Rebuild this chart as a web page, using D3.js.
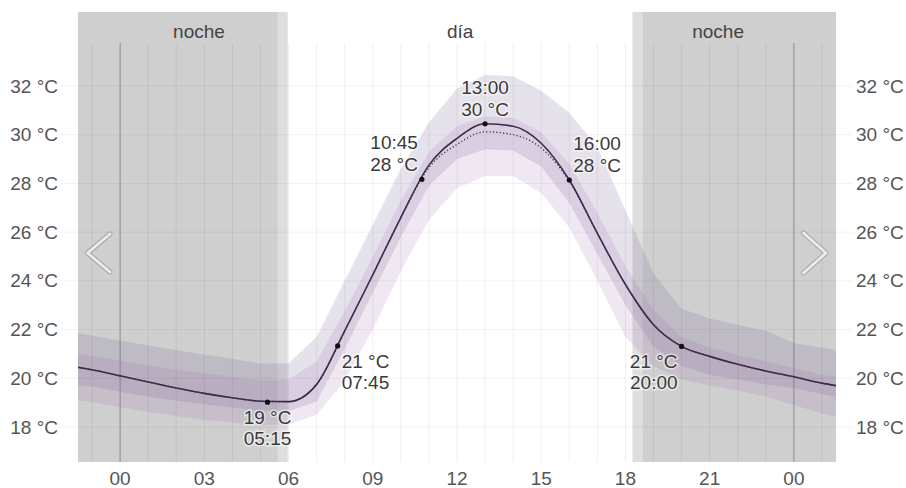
<!DOCTYPE html>
<html>
<head>
<meta charset="utf-8">
<script src="https://cdn.jsdelivr.net/npm/d3@7"></script>
<style>
  html, body { margin: 0; padding: 0; background: #fff; }
  svg { display: block; font-family: "Liberation Sans", Arial, sans-serif; }
</style>
</head>
<body>
<svg id="chart" width="906" height="488"></svg>
<script>
// Hour of day (0 = midnight), spanning the previous evening to the next night
const hours = [-1.5, -1, 0, 1, 2, 3, 4, 5, 6, 7, 8, 9, 10, 11, 12, 13, 14, 15, 16, 17, 18, 19, 20, 21, 22, 23, 24, 25, 25.5];

// Forecast temperature (°C)
const tempMain = [20.45, 20.35, 20.10, 19.85, 19.60, 19.38, 19.20, 19.06, 19.04, 19.75, 21.95, 24.25, 26.60, 28.75, 29.85, 30.45, 30.35, 29.65, 28.14, 25.95, 23.85, 22.20, 21.31, 20.90, 20.58, 20.30, 20.06, 19.80, 19.70];
// Median of the ensemble
const tempMedian = [20.45, 20.35, 20.10, 19.85, 19.60, 19.38, 19.20, 19.06, 19.04, 19.75, 21.95, 24.25, 26.60, 28.65, 29.60, 30.12, 30.00, 29.45, 28.10, 25.95, 23.85, 22.20, 21.31, 20.90, 20.58, 20.30, 20.06, 19.80, 19.70];

// Uncertainty ranges
const outerHigh = [21.85, 21.75, 21.55, 21.35, 21.15, 20.98, 20.80, 20.60, 20.62, 21.70, 24.00, 26.30, 28.60, 30.50, 31.90, 32.45, 32.40, 31.80, 30.90, 29.50, 26.90, 24.30, 22.85, 22.45, 22.20, 21.95, 21.45, 21.25, 21.16];
const innerHigh = [21.00, 20.92, 20.72, 20.52, 20.35, 20.20, 20.05, 19.90, 19.95, 20.70, 22.75, 25.00, 27.30, 29.30, 30.35, 30.75, 30.70, 30.10, 28.80, 26.80, 24.60, 22.80, 21.70, 21.25, 20.95, 20.70, 20.41, 20.15, 20.06];
const innerLow  = [19.72, 19.65, 19.45, 19.25, 19.08, 18.93, 18.80, 18.68, 18.65, 19.05, 21.20, 23.50, 25.80, 27.90, 29.00, 29.40, 29.35, 28.70, 27.20, 25.10, 23.00, 21.30, 20.50, 20.15, 19.95, 19.75, 19.59, 19.35, 19.24];
const outerLow  = [19.10, 19.02, 18.82, 18.62, 18.45, 18.30, 18.18, 18.08, 18.10, 18.50, 19.90, 22.00, 24.40, 26.50, 27.80, 28.30, 28.30, 27.60, 26.20, 24.00, 21.70, 20.50, 19.95, 19.70, 19.50, 19.25, 18.90, 18.55, 18.42];

// Highlighted moments
const markTimes = ["05:15", "07:45", "10:45", "13:00", "16:00", "20:00"];
const markTemps = [19.02, 21.33, 28.17, 30.45, 28.14, 21.31];
const markPlace = ["below", "belowRight", "aboveLeft", "above", "aboveRight", "belowLeft"];

// Sun times (hours): dawn, sunrise, sunset, dusk
const dawn = 5.62, sunrise = 5.97, sunset = 18.25, dusk = 18.6;
const periodNames = ["noche", "día", "noche"];

const xTicks = [0, 3, 6, 9, 12, 15, 18, 21, 24];
const yTicks = [18, 20, 22, 24, 26, 28, 30, 32];

const svg = d3.select("#chart");
const plotL = 78, plotR = 836, plotT = 43, plotB = 462, shadeT = 12;

const x = d3.scaleLinear().domain([-1.5, 25.5]).range([plotL, plotR]);
const y = d3.scaleLinear().domain([18, 32]).range([427, 86]);

const hh = t => { const [h, m] = t.split(":").map(Number); return h + m / 60; };
const fmtT = d3.format(".0f");

svg.append("defs").append("clipPath").attr("id", "plot")
  .append("rect").attr("x", plotL).attr("y", 0).attr("width", plotR - plotL).attr("height", plotB);

// Night / twilight shading
const shade = svg.append("g");
const shadeRect = (a, b, col) => shade.append("rect")
  .attr("x", x(a)).attr("y", shadeT).attr("width", x(b) - x(a)).attr("height", plotB - shadeT).attr("fill", col);
shadeRect(-1.5, dawn, "#cfcfcf");
shadeRect(dawn, sunrise, "#dedede");
shadeRect(sunset, dusk, "#dedede");
shadeRect(dusk, 25.5, "#cfcfcf");

// Period labels
const periodCenters = [(x(0) + x(dawn)) / 2, (x(sunrise) + x(sunset)) / 2, (x(dusk) + x(24)) / 2];
svg.append("g").selectAll("text").data(periodNames).join("text")
  .attr("x", (d, i) => periodCenters[i]).attr("y", 31.5)
  .attr("text-anchor", "middle").attr("dominant-baseline", "central")
  .attr("font-size", 19).attr("fill", "#444").text(d => d);

// Grid
const grid = svg.append("g");
grid.selectAll("line.h").data(yTicks).join("line")
  .attr("x1", 60).attr("x2", 853).attr("y1", d => y(d)).attr("y2", d => y(d))
  .attr("stroke", "rgba(0,0,0,0.05)").attr("stroke-width", 1);
grid.selectAll("line.v").data(d3.range(-1, 26)).join("line")
  .attr("x1", d => x(d)).attr("x2", d => x(d)).attr("y1", plotT).attr("y2", plotB)
  .attr("stroke", d => (d % 24 === 0) ? "rgba(0,0,0,0.32)" : "rgba(0,0,0,0.065)")
  .attr("stroke-width", 1);

// Bands
const plot = svg.append("g").attr("clip-path", "url(#plot)");
const idx = d3.range(hours.length);
const area = (lo, hi) => d3.area().x(i => x(hours[i])).y0(i => y(lo[i])).y1(i => y(hi[i])).curve(d3.curveLinear)(idx);
plot.append("path").attr("d", area(innerLow, outerHigh)).attr("fill", "rgb(120,100,150)").attr("fill-opacity", 0.19);
plot.append("path").attr("d", area(outerLow, innerHigh)).attr("fill", "rgb(150,100,165)").attr("fill-opacity", 0.15);

// Lines
const line = vals => d3.line().x(i => x(hours[i])).y(i => y(vals[i])).curve(d3.curveMonotoneX)(idx);
plot.append("path").attr("d", line(tempMain)).attr("fill", "none").attr("stroke", "#3a2d4c").attr("stroke-width", 1.6);
plot.append("path").attr("d", line(tempMedian)).attr("fill", "none").attr("stroke", "#3a2d4c").attr("stroke-width", 1.3).attr("stroke-dasharray", "1.2,2.2");

// Axis labels
svg.append("g").selectAll("text").data(yTicks).join("text")
  .attr("x", 58).attr("y", d => y(d)).attr("text-anchor", "end").attr("dominant-baseline", "central")
  .attr("font-size", 19).attr("fill", "#555").text(d => d + " °C");
svg.append("g").selectAll("text").data(yTicks).join("text")
  .attr("x", 856).attr("y", d => y(d)).attr("text-anchor", "start").attr("dominant-baseline", "central")
  .attr("font-size", 19).attr("fill", "#555").text(d => d + " °C");
svg.append("g").selectAll("text").data(xTicks).join("text")
  .attr("x", d => x(d)).attr("y", 478.5).attr("text-anchor", "middle").attr("dominant-baseline", "central")
  .attr("font-size", 19).attr("fill", "#555").text(d => String(d % 24).padStart(2, "0"));

// Navigation chevrons
const chev = svg.append("g").attr("fill", "none").attr("stroke-linecap", "round").attr("stroke-linejoin", "round");
const cy = 253;
[`M110,${cy - 19} L87.5,${cy} L110,${cy + 19}`, `M803.5,${cy - 20} L826,${cy} L803.5,${cy + 20}`].forEach(d => {
  chev.append("path").attr("d", d).attr("stroke", "#a9a9a9").attr("stroke-width", 5);
  chev.append("path").attr("d", d).attr("stroke", "#ececec").attr("stroke-width", 2.8);
});

// Highlighted points
const marks = svg.append("g");
markTimes.forEach((t, i) => {
  const px = x(hh(t)), py = y(markTemps[i]);
  marks.append("circle").attr("cx", px).attr("cy", py).attr("r", 2.6).attr("fill", "#111");
  const tempTxt = fmtT(markTemps[i]) + " °C";
  const p = markPlace[i];
  let anchor = "middle", dx = 0, lines;
  if (p.startsWith("above")) lines = [[t, -36.5], [tempTxt, -14.5]];
  else lines = [[tempTxt, 15.5], [t, 36.5]];
  if (p.endsWith("Right")) { anchor = "start"; dx = 4; }
  if (p.endsWith("Left")) { anchor = "end"; dx = -4; }
  lines.forEach(([s, dy]) => {
    marks.append("text").attr("x", px + dx).attr("y", py + dy)
      .attr("text-anchor", anchor).attr("dominant-baseline", "central")
      .attr("font-size", 19).attr("fill", "#3a3a3a")
      .attr("stroke", "rgba(255,255,255,0.55)").attr("stroke-width", 3).attr("paint-order", "stroke")
      .text(s);
  });
});
</script>
</body>
</html>
